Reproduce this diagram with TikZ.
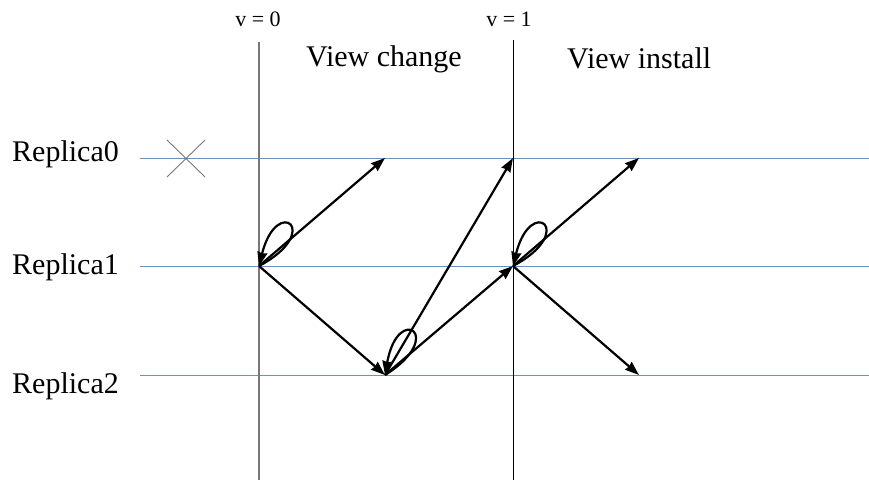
\documentclass[tikz,border=0pt]{standalone}
\usepackage{fontspec}
\setmainfont{Liberation Serif}
\usetikzlibrary{arrows.meta}
\definecolor{hline}{RGB}{110,145,185}
\definecolor{vzero}{RGB}{120,120,120}
\begin{document}
\begin{tikzpicture}[x=1pt,y=-1pt,
  hl/.style={draw=hline,line width=0.9pt},
  msg/.style={line width=2.2pt,-{Stealth[length=14pt,width=10pt,inset=1pt]}},
  lbl/.style={font=\fontsize{30}{36}\selectfont,inner sep=0pt,anchor=base west},
  vlbl/.style={font=\fontsize{22}{26}\selectfont,inner sep=0pt,anchor=base}]
\useasboundingbox (0,0) rectangle (869,481);
% replica lines
\coordinate (h0s) at (140,158); \coordinate (h0e) at (869,158);
\coordinate (h1s) at (140,266); \coordinate (h1e) at (869,266);
\coordinate (h2s) at (140,375); \coordinate (h2e) at (869,375);
\draw[hl] (h0s) -- (h0e);
\draw[hl] (h1s) -- (h1e);
\draw[hl] (h2s) -- (h2e);
% view lines
\coordinate (v0t) at (259,42); \coordinate (v0b) at (259,480);
\coordinate (v1t) at (513,40); \coordinate (v1b) at (513,480);
\draw[vzero,line width=1.2pt] (v0t) -- (v0b);
\draw[black,line width=1pt] (v1t) -- (v1b);
% labels
\node[vlbl] (lv0) at (258,27) {v = 0};
\node[vlbl] (lv1) at (509,27) {v = 1};
\node[lbl] (vc) at (306,67) {View change};
\node[lbl] (vi) at (567,69) {View install};
\node[lbl] (l0) at (12,162) {Replica0};
\node[lbl] (l1) at (12,274) {Replica1};
\node[lbl] (l2) at (12,393) {Replica2};
% crash mark
\coordinate (xa) at (167,140); \coordinate (xb) at (205,177);
\coordinate (xc) at (167,177); \coordinate (xd) at (205,140);
\draw[vzero,line width=0.9pt] (xa) -- (xb) (xc) -- (xd);
% event points
\coordinate (r1a) at (259,266);
\coordinate (r0a) at (385,158);
\coordinate (r2a) at (385,375);
\coordinate (r0b) at (513,158);
\coordinate (r1b) at (513,266);
\coordinate (r0c) at (639,158);
\coordinate (r2c) at (639,375);
% messages
\draw[msg] (r1a) -- (r0a);
\draw[msg] (r1a) -- (r2a);
\draw[msg] (r2a) -- (r0b);
\draw[msg] (r2a) -- (r1b);
\draw[msg] (r1b) -- (r0c);
\draw[msg] (r1b) -- (r2c);
% self loops (y axis is flipped, so negative angles point up)
\draw[msg] (r1a) .. controls +(-28:74) and +(-76:74) .. (r1a);
\draw[msg] (r2a) .. controls +(-32:74) and +(-80:74) .. (r2a);
\draw[msg] (r1b) .. controls +(-28:74) and +(-76:74) .. (r1b);
\end{tikzpicture}
\end{document}
